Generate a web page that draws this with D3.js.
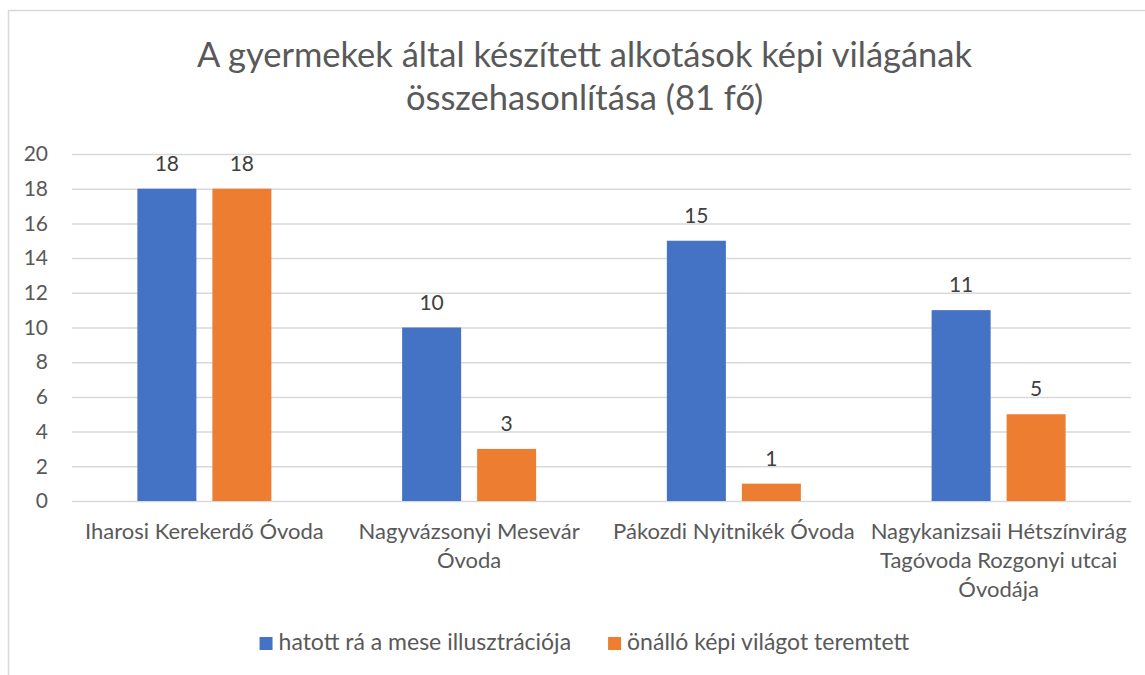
<!DOCTYPE html>
<html>
<head>
<meta charset="utf-8">
<script src="https://cdnjs.cloudflare.com/ajax/libs/d3/7.8.5/d3.min.js"></script>
<style>
  body { margin: 0; background: #fff; }
  svg { display: block; font-family: Lato, "Open Sans", sans-serif; }
</style>
</head>
<body>
<div id="chart"></div>
<script>
// chart data
const titleLines = ["A gyermekek által készített alkotások képi világának", "összehasonlítása (81 fő)"];
const categories = ["Iharosi Kerekerdő Óvoda", "Nagyvázsonyi Mesevár Óvoda", "Pákozdi Nyitnikék Óvoda", "Nagykanizsaii Hétszínvirág Tagóvoda Rozgonyi utcai Óvodája"];
const categoryLines = [
    ["Iharosi Kerekerdő Óvoda"],
    ["Nagyvázsonyi Mesevár", "Óvoda"],
    ["Pákozdi Nyitnikék Óvoda"],
    ["Nagykanizsaii Hétszínvirág", "Tagóvoda Rozgonyi utcai", "Óvodája"]
];
const seriesNames = ["hatott rá a mese illusztrációja", "önálló képi világot teremtett"];
const illustrationValues = [18, 10, 15, 11];
const ownWorldValues = [18, 3, 1, 5];
const yTicks = [0, 2, 4, 6, 8, 10, 12, 14, 16, 18, 20];
const colors = ["#4472C4", "#ED7D31"];

const data = categories.map((c, i) => ({
    category: c,
    values: [illustrationValues[i], ownWorldValues[i]]
}));

const W = 1145, H = 675;
const margin = {top: 154, right: 14, bottom: 174, left: 72},
    width = W - margin.left - margin.right,
    height = H - margin.top - margin.bottom;

const textColor = "#595959";
const centerX = margin.left + width / 2 - 17;

const svg = d3.select("#chart")
    .append("svg")
        .attr("width", W)
        .attr("height", H);

// chart border
svg.append("rect")
    .attr("x", 8.5)
    .attr("y", 10.5)
    .attr("width", W + 20)
    .attr("height", H + 20)
    .attr("fill", "none")
    .attr("stroke", "#D9D9D9")
    .attr("stroke-width", 1.5);

svg.append("text")
    .attr("text-anchor", "middle")
    .style("font-size", "34.5px")
    .style("fill", textColor)
    .selectAll("tspan")
    .data(titleLines)
    .join("tspan")
        .attr("x", centerX)
        .attr("y", (d, i) => 67 + i * 43)
        .text(d => d);

const g = svg.append("g")
    .attr("transform", "translate(" + margin.left + "," + margin.top + ")");

const x0 = d3.scaleBand()
    .domain(categories)
    .range([0, width])
    .padding(0);

const groupW = 134;
const x1 = d3.scaleBand()
    .domain([0, 1])
    .range([(x0.bandwidth() - groupW) / 2, (x0.bandwidth() + groupW) / 2])
    .paddingInner(16 / 75);

const y = d3.scaleLinear()
    .domain([0, 20])
    .range([height, 0]);

// gridlines
const yAxis = g.append("g")
    .call(d3.axisLeft(y).tickValues(yTicks).tickSize(-width).tickPadding(24));
yAxis.select(".domain").remove();
yAxis.selectAll(".tick line").style("stroke", "#D9D9D9").style("stroke-width", 1.5);
yAxis.selectAll(".tick text")
    .style("font-family", "Lato, 'Open Sans', sans-serif")
    .style("font-size", "21px")
    .style("fill", textColor);

const groups = g.selectAll(".group")
    .data(data)
    .join("g")
        .attr("class", "group")
        .attr("transform", d => "translate(" + x0(d.category) + ",0)");

groups.selectAll(".bar")
    .data(d => d.values.map((v, i) => ({i: i, v: v})))
    .join("rect")
        .attr("class", "bar")
        .attr("x", d => x1(d.i))
        .attr("y", d => y(d.v))
        .attr("width", x1.bandwidth())
        .attr("height", d => y(0) - y(d.v))
        .attr("fill", d => colors[d.i]);

groups.selectAll(".value")
    .data(d => d.values.map((v, i) => ({i: i, v: v})))
    .join("text")
        .attr("class", "value")
        .attr("x", d => x1(d.i) + x1.bandwidth() / 2)
        .attr("y", d => y(d.v) - 18)
        .attr("text-anchor", "middle")
        .style("font-size", "21px")
        .style("fill", "#404040")
        .text(d => d.v);

// category labels
groups.append("text")
    .attr("class", "cat-label")
    .attr("text-anchor", "middle")
    .style("font-size", "22px")
    .style("fill", textColor)
    .selectAll("tspan")
    .data((d, i) => categoryLines[i])
    .join("tspan")
        .attr("x", x0.bandwidth() / 2)
        .attr("y", (d, i) => height + 38 + i * 29)
        .text(d => d);

// legend
const legend = svg.append("g");
const items = legend.selectAll(".legend-item")
    .data(seriesNames)
    .join("g")
        .attr("class", "legend-item");

items.append("rect")
    .attr("width", 13)
    .attr("height", 13)
    .attr("y", 637)
    .attr("fill", (d, i) => colors[i]);

items.append("text")
    .attr("x", 19)
    .attr("y", 650)
    .style("font-size", "23px")
    .style("fill", textColor)
    .text(d => d);

let offset = 0;
const itemGap = 37;
const widths = [];
items.each(function() { widths.push(this.getBBox().width); });
const total = d3.sum(widths) + itemGap * (widths.length - 1);
offset = centerX - total / 2;
items.attr("transform", (d, i) => {
    const tx = offset;
    offset += widths[i] + itemGap;
    return "translate(" + tx + ",0)";
});
</script>
</body>
</html>
